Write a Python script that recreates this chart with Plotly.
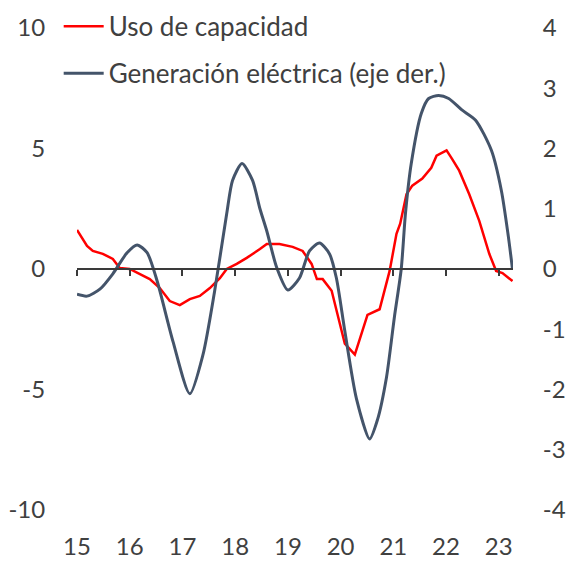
import plotly.graph_objects as go

# Uso de capacidad (left axis)
uso_x = [15.0, 15.19, 15.30, 15.49, 15.68, 15.81, 16.0, 16.19, 16.38, 16.57, 16.76, 16.95,
         17.14, 17.33, 17.52, 17.71, 17.84, 18.03, 18.22, 18.47, 18.60, 18.84, 19.09, 19.28,
         19.45, 19.55, 19.66, 19.83, 19.98, 20.08, 20.27, 20.40, 20.51, 20.74, 20.83, 20.93,
         21.06, 21.13, 21.25, 21.36, 21.55, 21.72, 21.82, 22.01, 22.12, 22.25, 22.44, 22.63,
         22.82, 22.95, 23.07, 23.26]
uso_y = [1.62, 0.96, 0.75, 0.63, 0.42, 0.04, 0.0, -0.21, -0.42, -0.79, -1.33, -1.5,
         -1.25, -1.12, -0.79, -0.38, 0.0, 0.21, 0.46, 0.83, 1.04, 1.04, 0.92, 0.75,
         0.21, -0.42, -0.42, -0.9, -2.17, -3.1, -3.55, -2.7, -1.9, -1.67, -0.9, -0.08,
         1.46, 1.88, 3.1, 3.46, 3.75, 4.2, 4.7, 4.92, 4.55, 4.08, 3.1, 2.0,
         0.63, -0.08, -0.17, -0.5]

# Generación eléctrica (right axis)
gen_x = [15.0, 15.19, 15.44, 15.68, 15.95, 16.14, 16.33, 16.52, 16.82, 17.14, 17.39, 17.61,
         17.84, 17.95, 18.13, 18.33, 18.47, 18.60, 18.79, 19.0, 19.22, 19.41, 19.60, 19.79,
         19.92, 20.08, 20.30, 20.55, 20.70, 20.87, 21.02, 21.15, 21.23, 21.34, 21.53, 21.67,
         21.86, 22.05, 22.30, 22.56, 22.86, 23.05, 23.18, 23.26]
gen_y = [-0.42, -0.45, -0.33, -0.08, 0.27, 0.40, 0.27, -0.2, -1.2, -2.07, -1.42, -0.37,
         0.92, 1.47, 1.75, 1.47, 1.0, 0.63, 0.02, -0.35, -0.15, 0.30, 0.43, 0.25,
         -0.15, -1.03, -2.15, -2.82, -2.5, -1.8, -0.8, 0.0, 0.92, 1.75, 2.58, 2.83,
         2.88, 2.83, 2.64, 2.47, 1.97, 1.3, 0.55, 0.0]

year_ticks = [15, 16, 17, 18, 19, 20, 21, 22, 23]
year_labels = [str(v) for v in year_ticks]
left_ticks = [-10, -5, 0, 5, 10]
left_labels = ["-10", "-5", "0", "5", "10"]
right_ticks = [-4, -3, -2, -1, 0, 1, 2, 3, 4]
right_labels = ["-4", "-3", "-2", "-1", "0", "1", "2", "3", "4"]

FONT = "Lato"
TXT = "#404040"
XR = [15, 23.27]

fig = go.Figure()
fig.add_trace(go.Scatter(x=uso_x, y=uso_y, mode="lines", name="Uso de capacidad",
                         line=dict(color="#FF0000", width=2.5), legendgroup="a",
                         xaxis="x", yaxis="y"))
fig.add_trace(go.Scatter(x=gen_x, y=gen_y, mode="lines", name="Generación eléctrica (eje der.)",
                         line=dict(color="#44546A", width=3, shape="spline", smoothing=0.7),
                         legendgroup="b", xaxis="x2", yaxis="y2"))

fig.update_layout(
    width=569, height=561,
    margin=dict(l=77, r=56, t=28, b=51, autoexpand=False),
    paper_bgcolor="white", plot_bgcolor="white",
    font=dict(family=FONT, size=24, color=TXT),
    showlegend=True,
    legend=dict(x=-0.042, y=1.052, xanchor="left", yanchor="top",
                bgcolor="rgba(0,0,0,0)", traceorder="grouped", tracegroupgap=10,
                font=dict(family=FONT, size=26, color=TXT), itemwidth=40),
    xaxis=dict(range=XR, tickvals=year_ticks, ticktext=year_labels, showgrid=False,
               zeroline=False, showline=False, ticks="outside", ticklen=15,
               tickcolor="rgba(0,0,0,0)", tickfont=dict(size=24, color=TXT)),
    xaxis2=dict(range=XR, overlaying="x", anchor="free", position=0.5,
                tickvals=year_ticks, showticklabels=False, showgrid=False, zeroline=False,
                showline=True, linecolor="#3A3A3A", linewidth=1.5,
                ticks="outside", ticklen=6, tickcolor="#3A3A3A", tickwidth=1.5),
    yaxis=dict(range=[-10, 10], tickvals=left_ticks, ticktext=left_labels, showgrid=False,
               zeroline=False, showline=False, ticks="outside", ticklen=26,
               tickcolor="rgba(0,0,0,0)", tickfont=dict(size=24, color=TXT)),
    yaxis2=dict(range=[-4, 4], tickvals=right_ticks, ticktext=right_labels, overlaying="y",
                side="right", anchor="x2", showgrid=False, zeroline=False, showline=False,
                ticks="outside", ticklen=24, tickcolor="rgba(0,0,0,0)",
                tickfont=dict(size=24, color=TXT)),
)

fig.write_html("out.html", config={"displayModeBar": False},
               post_script="document.body.style.margin='0px';")
